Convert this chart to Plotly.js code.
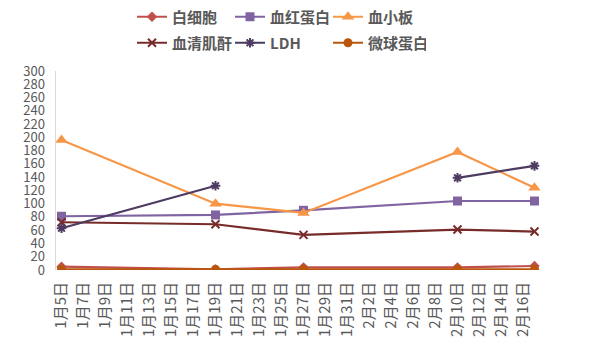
<!DOCTYPE html>
<html>
<head>
<meta charset="utf-8">
<script src="https://cdn.plot.ly/plotly-3.0.1.min.js"></script>
<style>html,body{margin:0;padding:0;background:#fff}#chart{width:600px;height:352px}</style>
</head>
<body>
<div id="chart"></div>
<script>
// Data
const dates = ['2023-01-05', '2023-01-19', '2023-01-27', '2023-02-10', '2023-02-17'];
const seriesNames = ['白细胞', '血红蛋白', '血小板', '血清肌酐', 'LDH', '微球蛋白'];
const wbc = [5, 1, 4, 4, 6];
const hemoglobin = [81, 83, 90, 104, 104];
const platelet = [196, 100, 86, 178, 124];
const creatinine = [72, 69, 53, 61, 58];
const ldh = [63, 127, null, 139, 157];
const microglobulin = [1, 1, 1, 1, 1];
const tickDates = ['2023-01-05','2023-01-07','2023-01-09','2023-01-11','2023-01-13','2023-01-15','2023-01-17','2023-01-19','2023-01-21','2023-01-23','2023-01-25','2023-01-27','2023-01-29','2023-01-31','2023-02-02','2023-02-04','2023-02-06','2023-02-08','2023-02-10','2023-02-12','2023-02-14','2023-02-16'];
const tickLabels = ['1月5日','1月7日','1月9日','1月11日','1月13日','1月15日','1月17日','1月19日','1月21日','1月23日','1月25日','1月27日','1月29日','1月31日','2月2日','2月4日','2月6日','2月8日','2月10日','2月12日','2月14日','2月16日'];
const yTicks = [0,20,40,60,80,100,120,140,160,180,200,220,240,260,280,300];

const FONT = '"Noto Sans CJK SC", "Noto Sans", sans-serif';
const TXT = '#595959';

function tr(name, y, color, symbol, size, legend, extra) {
  const m = Object.assign({color: color, size: size, symbol: symbol}, extra || {});
  return {
    x: dates, y: y, name: name, type: 'scatter', mode: 'lines+markers',
    line: {color: color, width: 2.2}, marker: m, connectgaps: false,
    legend: legend
  };
}

const traces = [
  tr(seriesNames[0], wbc, '#C0504D', 'diamond', 8, 'legend'),
  tr(seriesNames[1], hemoglobin, '#8064A2', 'square', 9, 'legend'),
  tr(seriesNames[2], platelet, '#F79646', 'triangle-up', 11, 'legend'),
  tr(seriesNames[3], creatinine, '#772C2A', 'x-thin', 8, 'legend2', {line: {color: '#772C2A', width: 2}}),
  tr(seriesNames[4], ldh, '#4D3B62', 'asterisk', 8, 'legend2', {line: {color: '#4D3B62', width: 2}}),
  tr(seriesNames[5], microglobulin, '#B9560B', 'circle', 9, 'legend2')
];

const legendCommon = {
  orientation: 'h', xref: 'container', yref: 'container', xanchor: 'left', yanchor: 'middle',
  font: {family: FONT, size: 15, color: TXT, weight: 'bold'}, entrywidth: 53, entrywidthmode: 'pixels',
  bgcolor: 'rgba(0,0,0,0)', itemclick: false
};

const layout = {
  width: 600, height: 352,
  margin: {l: 56, r: 60, t: 71, b: 81.5},
  paper_bgcolor: '#fff', plot_bgcolor: '#fff',
  font: {family: FONT, color: TXT},
  showlegend: true,
  legend: Object.assign({}, legendCommon, {x: 0.22, y: 1 - 17/352}),
  legend2: Object.assign({}, legendCommon, {x: 0.22, y: 1 - 43/352}),
  xaxis: {
    type: 'date', range: ['2023-01-04 12:00', '2023-02-17 12:00'],
    tickmode: 'array', tickvals: tickDates, ticktext: tickLabels,
    tickangle: -90, tickfont: {family: FONT, size: 15, color: TXT},
    showgrid: false, zeroline: false, showline: false, ticks: '', ticklabelstandoff: 8
  },
  yaxis: {
    range: [0, 300], tickmode: 'array', tickvals: yTicks,
    tickfont: {family: FONT, size: 13, color: TXT},
    showgrid: false, zeroline: false, showline: true, linecolor: '#D9D9D9', linewidth: 1.5,
    ticks: '', ticklabelstandoff: 7
  }
};

Plotly.newPlot('chart', traces, layout, {staticPlot: true, displayModeBar: false});
</script>
</body>
</html>
